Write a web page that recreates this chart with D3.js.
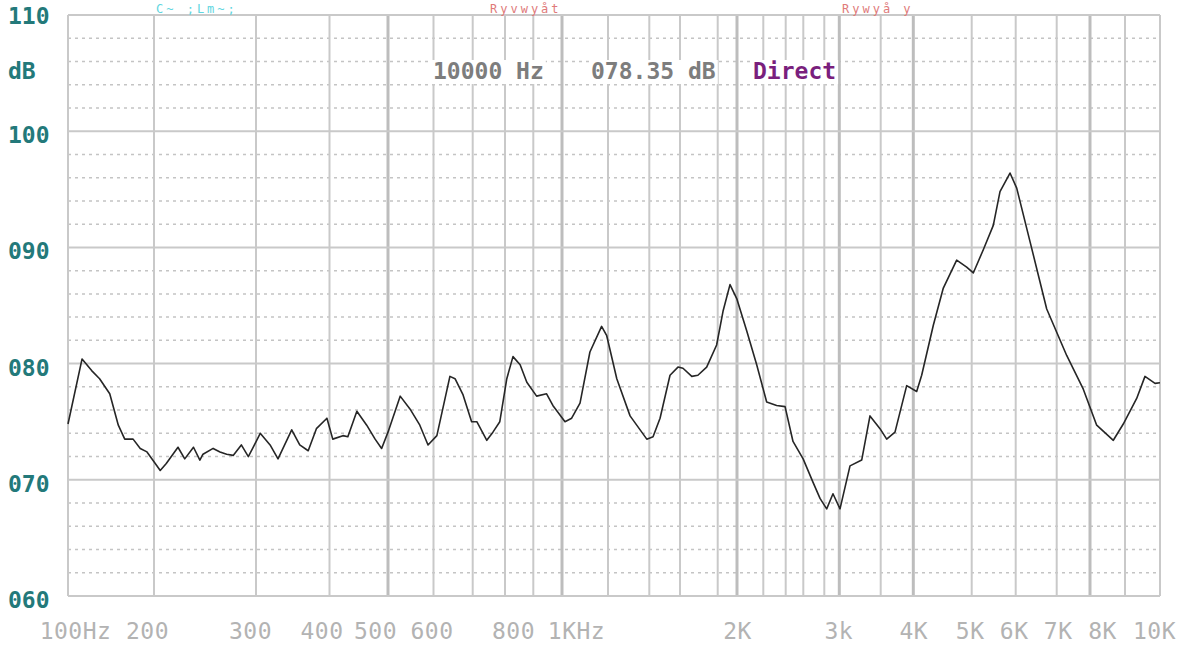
<!DOCTYPE html>
<html>
<head>
<meta charset="utf-8">
<script src="https://cdn.jsdelivr.net/npm/d3@7/dist/d3.min.js"></script>
<style>
  html, body { margin: 0; padding: 0; background: #ffffff; }
  svg { display: block; }
</style>
</head>
<body>
<svg id="chart" width="1181" height="646"></svg>
<script>
// ---------------- DATA ----------------
// Frequency response curve (Hz, dB)
const freqs = [100,112,121,129,140,150,158,169,179,189,201,205,210,220,226,234,240,243,253,260,267,274,283,291,296,
  305,317,327,345,356,368,380,396,405,421,429,444,461,476,488,500,525,546,568,587,608,640,653,674,697,712,742,761,783,
  806,827,852,876,911,945,967,1012,1039,1074,1117,1170,1194,1240,1303,1387,1423,1467,1532,1586,1615,1660,1692,1739,1794,
  1853,1925,1997,2072,2148,2229,2317,2394,2481,2598,2690,2758,2831,2914,3008,3122,3261,3363,3491,3587,3711,3893,4052,
  4130,4318,4486,4721,4905,5033,5246,5468,5622,5860,6023,6332,6742,7286,7788,8182,8653,8948,9322,9558,9851,10000];
const levels = [74.8,80.4,79.4,78.7,77.4,74.7,73.5,73.5,72.7,72.4,71.4,70.8,71.4,72.8,71.8,72.8,71.7,72.2,72.7,72.4,72.2,72.1,73.0,72.0,72.7,
  74.0,73.0,71.8,74.3,73.0,72.5,74.4,75.3,73.5,73.8,73.7,75.9,74.7,73.5,72.7,74.1,77.2,76.1,74.7,73.0,73.8,78.9,78.7,77.3,75.0,75.0,73.4,74.1,75.0,
  78.7,80.6,79.9,78.4,77.2,77.4,76.4,75.0,75.3,76.6,81.0,83.2,82.4,78.7,75.5,73.5,73.7,75.3,79.0,79.7,79.6,78.9,79.0,79.7,81.6,
  84.5,86.8,85.6,82.8,79.9,76.7,76.4,76.3,73.3,71.8,69.8,68.4,67.5,68.8,67.5,71.2,71.7,75.5,74.4,73.5,74.1,78.1,77.6,
  79.0,83.3,86.5,88.9,88.3,87.8,89.8,91.9,94.8,96.4,95.1,90.5,84.7,80.7,77.8,74.7,73.4,74.8,77.0,78.9,78.3,78.35];

// Vertical grid frequencies (the analyser's own, non-logarithmic scale knots)
const gridFreqs = [100,200,300,400,500,600,700,800,900,1000,1200,1400,1600,1800,2000,2200,2400,2600,2800,3000,3500,4000,5000,6000,7000,8000,9000,10000];
const heavyGridFreqs = [500,1000,2000,3000,4000,8000];
// X tick labels
const xTickFreqs = [100,200,300,400,500,600,800,1000,2000,3000,4000,5000,6000,7000,8000,10000];
const xTickLabels = ["100Hz","200","300","400","500","600","800","1KHz","2K","3k","4K","5K","6K","7K","8K","10K"];
// Y tick labels
const yMajorTicks = [110,100,90,80,70,60];
const yTickLabels = ["110","100","090","080","070","060"];
const yMinorTicks = [62,64,66,68,72,74,76,78,82,84,86,88,92,94,96,98,102,104,106,108];
// Readout
const readoutFreq = "10000 Hz";
const readoutLevel = "078.35 dB";
const readoutMode = "Direct";
// faint legend fragments along the top edge
const legendFragments = ["C~ ;Lm~;", "Ryvwy\u00e5t", "Rywy\u00e5 y"];

// ---------------- LAYOUT ----------------
const W = 1181, H = 646;
// pixel positions of the analyser's grid knots (its frequency axis is warped)
const gridKnotPx = [68,154,256,329.5,388,433.5,472.7,505,533.3,562,608,649.3,680,717.7,737,763.3,785.7,803.3,824.3,839.3,880.7,913.3,971.7,1015.7,1056.7,1090,1125,1160];
// small horizontal nudges of the x labels, as printed by the analyser
const xLabelNudge = [7,-7,-6,-8,-13,-2,8,14,0,-1,0,-2,-2,1,12,-6];

const svg = d3.select("#chart");
svg.append("rect").attr("width", W).attr("height", H).attr("fill", "#fff");

const x = d3.scaleLinear()
  .domain(gridFreqs.map(f => Math.log10(f)))
  .range(gridKnotPx)
  .clamp(true);
const fx = f => x(Math.log10(f));
const y = d3.scaleLinear().domain([60, 110]).range([596, 15]);

const x0 = fx(100), x1 = fx(10000);
const gridColor = "#c9c9c9";
const mono = "'DejaVu Sans Mono', 'Liberation Mono', monospace";

// minor horizontal dotted lines
svg.append("g").selectAll("line").data(yMinorTicks).join("line")
  .attr("x1", x0).attr("x2", x1)
  .attr("y1", d => y(d)).attr("y2", d => y(d))
  .attr("stroke", "#c4c4c4").attr("stroke-width", 1.5)
  .attr("stroke-dasharray", "3,4");

// vertical grid lines
svg.append("g").selectAll("line").data(gridFreqs).join("line")
  .attr("x1", d => fx(d)).attr("x2", d => fx(d))
  .attr("y1", y(110)).attr("y2", y(60))
  .attr("stroke", d => heavyGridFreqs.includes(d) ? "#bdbdbd" : gridColor)
  .attr("stroke-width", d => heavyGridFreqs.includes(d) ? 3 : 2);

// major horizontal lines
svg.append("g").selectAll("line").data(yMajorTicks).join("line")
  .attr("x1", x0).attr("x2", x1)
  .attr("y1", d => y(d)).attr("y2", d => y(d))
  .attr("stroke", gridColor).attr("stroke-width", 2);

// curve
const pts = freqs.map((f, i) => [f, levels[i]]);
svg.append("path")
  .datum(pts)
  .attr("fill", "none")
  .attr("stroke", "#262626")
  .attr("stroke-width", 1.6)
  .attr("stroke-linejoin", "round")
  .attr("d", d3.line().x(d => fx(d[0])).y(d => y(d[1])));

// X axis labels via d3 axis
const xAxis = d3.axisBottom(x)
  .tickValues(xTickFreqs.map(f => Math.log10(f)))
  .tickFormat((d, i) => xTickLabels[i])
  .tickSize(0).tickPadding(0);
const gx = svg.append("g").attr("transform", "translate(0,639)").call(xAxis);
gx.select(".domain").remove();
gx.selectAll("text")
  .attr("dy", 0)
  .attr("dx", (d, i) => xLabelNudge[i])
  .attr("font-family", mono)
  .attr("font-size", 23)
  .attr("letter-spacing", 0.5)
  .attr("fill", "#b3b3b3");

// Y labels
const yl = svg.append("g");
yl.selectAll("text").data(yMajorTicks).join("text")
  .attr("x", 8)
  .attr("y", (d, i) => d === 110 ? 24 : y(d) + 12)
  .text((d, i) => yTickLabels[i])
  .attr("font-family", mono).attr("font-weight", "bold")
  .attr("font-size", 23)
  .attr("fill", "#23797a");
yl.append("text").attr("x", 8).attr("y", 79).text("dB")
  .attr("font-family", mono).attr("font-weight", "bold")
  .attr("font-size", 23).attr("fill", "#23797a");

// Readout texts with white backgrounds
const readouts = [
  {t: readoutFreq, x: 433, c: "#7d7d7d"},
  {t: readoutLevel, x: 591, c: "#7d7d7d"},
  {t: readoutMode, x: 753, c: "#7a1f7d"}
];
readouts.forEach(r => {
  const g = svg.append("g");
  const bg = g.append("rect").attr("fill", "#fff");
  const t = g.append("text").attr("x", r.x).attr("y", 79).text(r.t)
    .attr("font-family", mono).attr("font-weight", "bold")
    .attr("font-size", 23).attr("fill", r.c);
  const bb = t.node().getBBox();
  bg.attr("x", bb.x - 2).attr("y", bb.y + 2).attr("width", bb.width + 4).attr("height", bb.height - 2);
});

// faint coloured legend fragments at the top edge
const fragStyle = [{x: 156, c: "#5fd6e0"}, {x: 490, c: "#e07a7a"}, {x: 842, c: "#e07a7a"}];
svg.append("g").selectAll("text").data(legendFragments).join("text")
  .attr("x", (d, i) => fragStyle[i].x)
  .attr("y", 13)
  .text(d => d)
  .attr("font-family", mono).attr("font-size", 12)
  .attr("letter-spacing", 3)
  .attr("fill", (d, i) => fragStyle[i].c);
</script>
</body>
</html>
